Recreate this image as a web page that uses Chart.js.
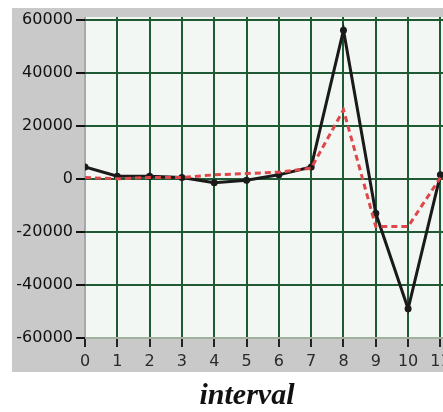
<!DOCTYPE html>
<html>
<head>
<meta charset="utf-8">
<script src="https://cdn.jsdelivr.net/npm/chart.js@4"></script>
<style>
  html, body { margin: 0; padding: 0; background: #ffffff; }
  #wrap { width: 443px; height: 412px; position: relative; }
</style>
</head>
<body>
<div id="wrap"><canvas id="c" width="443" height="412"></canvas></div>
<script>
// interval index on the x axis
const intervals = [0, 1, 2, 3, 4, 5, 6, 7, 8, 9, 10, 11];
// measured series (solid black with markers)
const measured = [4500, 1000, 1000, 500, -1500, -500, 1500, 4500, 56000, -13000, -49000, 1500];
// reference series (red dashed)
const reference = [500, 0, 500, 500, 1500, 2000, 2500, 4000, 26000, -18000, -18000, 500];
// axis tick values
const xTicks = [0, 1, 2, 3, 4, 5, 6, 7, 8, 9, 10, 11];
const yTicks = [-60000, -40000, -20000, 0, 20000, 40000, 60000];
const xTitle = 'interval';

const GRID = '#1f5a34';

const panelPlugin = {
  id: 'panel',
  // let the plot run to the right edge of the canvas (the last label is cut off there)
  afterLayout(chart) {
    const a = chart.chartArea;
    a.right = chart.width;
    a.width = a.right - a.left;
    const x = chart.scales.x;
    x.right = chart.width;
    x.width = x.right - x.left;
    x.configure();
  },
  beforeDraw(chart) {
    const ctx = chart.ctx;
    const a = chart.chartArea;
    ctx.save();
    // grey frame behind the axes
    ctx.fillStyle = '#c9c9c9';
    ctx.fillRect(12, 8, chart.width - 12, 364);
    // plot background
    ctx.fillStyle = '#f3f7f3';
    ctx.fillRect(a.left, a.top, a.right - a.left, a.bottom - a.top);
    ctx.restore();
  },
  afterDraw(chart) {
    const ctx = chart.ctx;
    ctx.save();
    ctx.fillStyle = '#111';
    ctx.font = 'italic bold 30px "Liberation Serif"';
    ctx.textAlign = 'center';
    ctx.textBaseline = 'alphabetic';
    ctx.fillText(xTitle, 247, 404);
    ctx.restore();
  }
};

new Chart(document.getElementById('c'), {
  type: 'line',
  data: {
    datasets: [
      {
        label: 'reference',
        data: intervals.map((x, i) => ({ x, y: reference[i] })),
        borderColor: '#e0474a',
        borderWidth: 3,
        borderDash: [6, 4],
        pointRadius: 0,
        tension: 0
      },
      {
        label: 'measured',
        data: intervals.map((x, i) => ({ x, y: measured[i] })),
        borderColor: '#1a1a1a',
        backgroundColor: '#1a1a1a',
        borderWidth: 3,
        pointRadius: 3.5,
        pointBorderWidth: 0,
        tension: 0
      }
    ]
  },
  options: {
    responsive: false,
    animation: false,
    devicePixelRatio: 1,
    layout: { padding: { top: 17, left: 0, right: 0, bottom: 0 } },
    plugins: { legend: { display: false }, tooltip: { enabled: false } },
    scales: {
      x: {
        type: 'linear',
        min: 0,
        max: 11.08,
        afterBuildTicks(scale) { scale.ticks = xTicks.map(v => ({ value: v })); },
        afterFit(scale) {
          scale.height = 74;
          scale.paddingLeft = 0;
          scale.paddingRight = 0;
        },
        border: { display: false },
        grid: {
          color: c => (c.tick && c.tick.value === 0) ? '#a8a8a8' : GRID,
          lineWidth: 2,
          drawTicks: true,
          tickLength: 9,
          tickColor: '#222',
          tickWidth: 2
        },
        ticks: {
          padding: 5,
          color: '#2a2a2a',
          font: { family: 'DejaVu Sans', size: 16 },
          maxRotation: 0,
          autoSkip: false,
          callback: v => String(v)
        }
      },
      y: {
        type: 'linear',
        min: -60000,
        max: 61000,
        afterBuildTicks(scale) { scale.ticks = yTicks.map(v => ({ value: v })); },
        afterFit(scale) {
          scale.width = 85;
          scale.paddingTop = 0;
          scale.paddingBottom = 0;
        },
        border: { display: false },
        grid: {
          color: c => (c.tick && c.tick.value === -60000) ? '#9fb09f' : GRID,
          lineWidth: 2,
          drawTicks: true,
          tickLength: 9,
          tickColor: '#111',
          tickWidth: 2
        },
        ticks: {
          padding: 3,
          color: '#111',
          font: { family: 'DejaVu Sans', size: 16 },
          autoSkip: false,
          callback: v => String(v)
        }
      }
    }
  },
  plugins: [panelPlugin]
});
</script>
</body>
</html>
